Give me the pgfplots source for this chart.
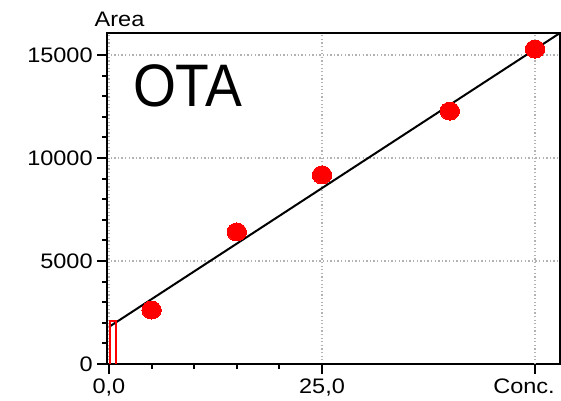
\documentclass[border=0pt]{standalone}
\usepackage{pgfplots}
\pgfplotsset{compat=1.18}
\usepackage{fontspec}
\setmainfont[FakeStretch=1.12]{Liberation Sans}
\newfontfamily\otafont[FakeStretch=0.92]{Liberation Sans}
\pgfplotsset{
  every axis/.append style={line width=2pt},
  every tick/.style={black, line width=2pt},
  every minor tick/.style={black, line width=2pt},
}
\begin{document}
\begin{tikzpicture}[x=1pt,y=1pt]
\useasboundingbox (-107,-36) rectangle (454,364);
\begin{axis}[
  at={(0,0)}, anchor=south west,
  scale only axis, width=453pt, height=331pt,
  xmin=-0.23, xmax=52.93, ymin=0, ymax=16068,
  xtick={0,25}, xticklabels={{0,0},{25,0}},
  extra x ticks={50}, extra x tick labels={Conc.},
  extra x tick style={grid=major, xticklabel style={xshift=-11pt}},
  ytick={0,5000,10000,15000},
  scaled y ticks=false,
  minor x tick num=4, minor y tick num=4,
  tick pos=left, tick align=outside,
  major tick length=10pt, minor tick length=5pt,
  grid=major,
  major grid style={gray!60, line width=1.3pt, dash pattern=on 1.3pt off 2.3pt},
  /pgf/number format/assume math mode=true,
  /pgf/number format/1000 sep={},
  ticklabel style={font=\fontsize{21}{25}\selectfont},
  clip mode=individual,
]
\addplot[black, line width=2pt] coordinates {(0,1800) (52.93,16068)};
\addplot[red, line width=2pt] coordinates {(0.1,0) (0.1,2100) (0.8,2100) (0.8,0)};
\addplot[only marks, mark=*, mark size=9pt, red, mark options={xscale=1.08, fill=red, draw=red, line width=0pt}]
  coordinates {(5,2620) (15,6410) (25,9180) (40,12280) (50,15290)};
\node[anchor=base, inner sep=0pt, font=\fontsize{21}{25}\selectfont]
  at ([xshift=12.5pt, yshift=6pt]rel axis cs:0,1) {Area};
\node[anchor=base west, inner sep=0pt, font=\otafont\fontsize{60}{66}\selectfont]
  at ([xshift=25pt, yshift=-74pt]rel axis cs:0,1) {OTA};
\end{axis}
\end{tikzpicture}
\end{document}
